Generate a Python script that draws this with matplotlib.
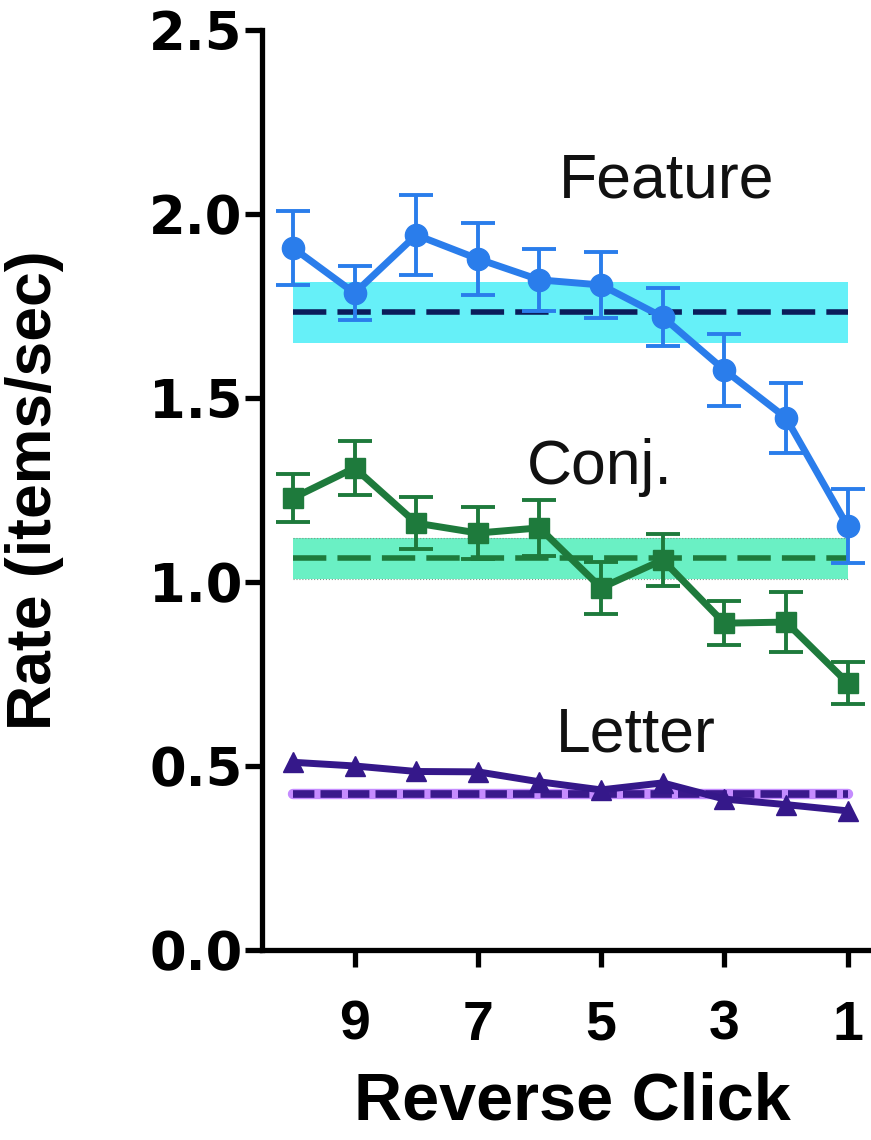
import matplotlib.pyplot as plt
import numpy as np

# datos
clicks = [10, 9, 8, 7, 6, 5, 4, 3, 2, 1]

feature = [1.908, 1.785, 1.943, 1.878, 1.821, 1.807, 1.720, 1.576, 1.446, 1.152]
feature_err = [0.10, 0.073, 0.108, 0.097, 0.085, 0.09, 0.08, 0.098, 0.096, 0.10]
feature_band = [1.649, 1.815]
feature_mean = 1.734

conj = [1.228, 1.310, 1.160, 1.133, 1.147, 0.984, 1.060, 0.888, 0.891, 0.726]
conj_err = [0.065, 0.073, 0.07, 0.07, 0.077, 0.07, 0.07, 0.06, 0.082, 0.057]
conj_band = [1.008, 1.120]
conj_mean = 1.065

letter = [0.51, 0.50, 0.485, 0.484, 0.457, 0.435, 0.454, 0.41, 0.395, 0.378]
letter_mean = 0.424

yticks = [0.0, 0.5, 1.0, 1.5, 2.0, 2.5]
xticks = [9, 7, 5, 3, 1]

plt.rcParams['font.family'] = ['Liberation Sans', 'DejaVu Sans']

fig = plt.figure(figsize=(8.71, 11.40), dpi=100)
ax = fig.add_axes([0.301, 0.1667, 0.699, 0.807])

x0, x1 = clicks[0], clicks[-1]

# bandas y lineas de media
ax.fill_between([x0, x1], feature_band[0], feature_band[1], color="#66F0F8", lw=0, zorder=1)
ax.plot([x0, x1], [feature_mean, feature_mean], color="#0B1D5A", lw=4, ls=(0, (6, 2)), zorder=2)

ax.fill_between([x0, x1], conj_band[0], conj_band[1], color="#6AF0C4", lw=0, zorder=1)
ax.plot([x0, x1], [conj_band[0]] * 2, color="#7A9A88", lw=0.8, ls=":", zorder=2)
ax.plot([x0, x1], [conj_band[1]] * 2, color="#7A9A88", lw=0.8, ls=":", zorder=2)
ax.plot([x0, x1], [conj_mean, conj_mean], color="#1E7A3C", lw=4, ls=(0, (6, 2)), zorder=2)

ax.plot([x0, x1], [letter_mean, letter_mean], color="#C58CFF", lw=7.5, zorder=1,
        solid_capstyle="round")
ax.plot([x0, x1], [letter_mean, letter_mean], color="#3A1A8C", lw=5.5, ls=(0, (2.8, 0.8)), zorder=2)

# series
ax.errorbar(clicks, feature, yerr=feature_err, color="#2A7DEB", lw=5, marker="o",
            ms=16, elinewidth=2.8, capsize=12, capthick=2.8, zorder=4)
ax.errorbar(clicks, conj, yerr=conj_err, color="#1E7A3C", lw=5, marker="s",
            ms=14, elinewidth=2.8, capsize=12, capthick=2.8, zorder=4)
ax.plot(clicks, letter, color="#35188A", lw=5, marker="^", ms=14, zorder=4)

# etiquetas
ax.text(3.93, 2.09, "Feature", fontsize=45, ha="center", va="center", color="#111111")
ax.text(5.02, 1.31, "Conj.", fontsize=45, ha="center", va="center", color="#111111")
ax.text(4.44, 0.585, "Letter", fontsize=45, ha="center", va="center", color="#111111")

ax.set_xlim(10.5, 0.62)
ax.set_ylim(0, 2.5)
ax.set_xticks(xticks)
ax.set_yticks(yticks)
ax.set_yticklabels([f"{v:.1f}" for v in yticks], family="DejaVu Sans", fontweight="bold",
                   fontsize=38)
ax.set_xticklabels([str(v) for v in xticks], fontsize=40, fontweight="bold")

for s in ["top", "right"]:
    ax.spines[s].set_visible(False)
for s in ["left", "bottom"]:
    ax.spines[s].set_linewidth(3.8)
ax.tick_params(axis="both", length=12, width=3.8, color="black")
ax.tick_params(axis="y", pad=2)
ax.tick_params(axis="x", pad=24)

ax.set_ylabel("Rate (items/sec)", fontsize=45, fontweight="bold")
ax.set_xlabel("Reverse Click", fontsize=48, fontweight="bold")
ax.yaxis.set_label_coords(-0.325, 0.5)
ax.xaxis.set_label_coords(0.509, -0.132)

fig.savefig("out.png", dpi=100)
